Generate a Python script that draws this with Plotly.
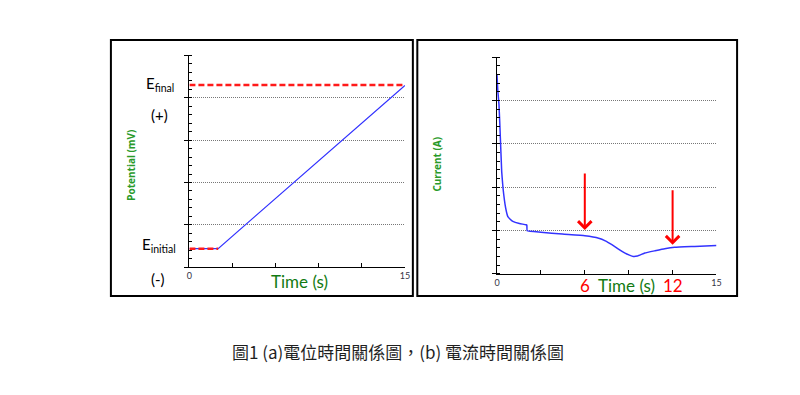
import plotly.graph_objects as go

W, H = 800, 395

# ---- data ----
pot_t = [0, 2.0, 15]
pot_v = [0.44, 0.44, 4.29]
e_init_t = [0, 2.0]
e_init_v = [0.44, 0.44]
e_final_t = [0, 15]
e_final_v = [4.30, 4.30]

cur_t = [0, 0.05, 0.135, 0.23, 0.32, 0.41, 0.59, 0.74, 0.9, 1.08, 1.53, 1.98, 2.04, 2.06,
         3.0, 4.47, 6.0, 6.95, 7.4, 7.85, 8.3, 8.75, 9.05, 9.32, 9.6, 10.1, 10.8, 11.46,
         12.14, 13.5, 15]
cur_i = [4.59, 4.25, 3.9, 3.13, 2.36, 1.98, 1.52, 1.32, 1.26, 1.21, 1.16, 1.13, 1.12, 0.99,
         0.96, 0.915, 0.877, 0.82, 0.76, 0.67, 0.57, 0.477, 0.43, 0.40, 0.41, 0.477, 0.53, 0.577,
         0.61, 0.63, 0.654]

arrow_x = [6, 12]
arrow_top = [2.35, 1.96]
arrow_tip = [1.01, 0.67]

xtick_vals = [0, 15]
xtick_text = ["0", "15"]

caption = "圖1 (a)電位時間關係圖，(b) 電流時間關係圖"

def px(x):
    return x / W

def py(y):
    return (H - y) / H

fig = go.Figure()

# left chart
fig.add_trace(go.Scatter(x=pot_t, y=pot_v, mode="lines", line=dict(color="#3333ff", width=1.2),
                         xaxis="x", yaxis="y", showlegend=False, hoverinfo="skip"))
fig.add_trace(go.Scatter(x=e_init_t, y=e_init_v, mode="lines",
                         line=dict(color="#ff1a1a", width=2.5, dash="6px,3px"),
                         xaxis="x", yaxis="y", showlegend=False, hoverinfo="skip"))
fig.add_trace(go.Scatter(x=e_final_t, y=e_final_v, mode="lines",
                         line=dict(color="#ff1a1a", width=2.5, dash="6px,3px"),
                         xaxis="x", yaxis="y", showlegend=False, hoverinfo="skip"))

# right chart
fig.add_trace(go.Scatter(x=cur_t, y=cur_i, mode="lines", line=dict(color="#3333ff", width=1.5, shape="spline", smoothing=0.3),
                         xaxis="x2", yaxis="y2", showlegend=False, hoverinfo="skip"))

tickfont = dict(family="Lato", size=9, color="#334")

def xax(domain):
    return dict(domain=domain, range=[0, 15], showgrid=False, zeroline=False,
                showline=True, linecolor="black", linewidth=1,
                tickvals=xtick_vals, ticktext=xtick_text, ticks="inside", ticklen=4,
                tickcolor="black", tickfont=tickfont, fixedrange=True,
                minor=dict(tick0=0, dtick=3, ticks="inside", ticklen=4, tickcolor="black", showgrid=False))

def yax(domain, anchor):
    return dict(domain=domain, range=[0, 5], anchor=anchor, showgrid=True, gridcolor="#777",
                griddash="1px,1px", gridwidth=1, zeroline=False,
                showline=True, linecolor="black", linewidth=1,
                tickvals=[0, 1, 2, 3, 4, 5], ticks="outside", ticklen=4, tickcolor="black",
                showticklabels=False,
                minor=dict(dtick=0.2, tick0=0, ticks="inside", ticklen=3, tickcolor="black", showgrid=False),
                fixedrange=True)

fig.update_layout(
    width=W, height=H, margin=dict(l=0, r=0, t=0, b=0),
    paper_bgcolor="white", plot_bgcolor="white",
    xaxis=dict(xax([px(188.3), px(406)]), anchor="y"),
    yaxis=yax([py(267.3), py(55.3)], "x"),
    xaxis2=dict(xax([px(499), px(720.7)]), anchor="y2"),
    yaxis2=yax([py(273.7), py(57.3)], "x2"),
)

shapes = [
    dict(type="rect", xref="paper", yref="paper", x0=px(109), x1=px(414), y0=py(296), y1=py(40),
         line=dict(color="black", width=2), fillcolor="rgba(0,0,0,0)", layer="above"),
    dict(type="rect", xref="paper", yref="paper", x0=px(418.5), x1=px(741.5), y0=py(296), y1=py(40),
         line=dict(color="black", width=2), fillcolor="rgba(0,0,0,0)", layer="above"),
]
fig.update_layout(shapes=shapes)

ann = []
def txt(x, y, s, size, color="black", xanchor="center", family="Lato", bold=False):
    if bold:
        s = "<b>" + s + "</b>"
    ann.append(dict(x=px(x), y=py(y), xref="paper", yref="paper", text=s, showarrow=False,
                    xanchor=xanchor, yanchor="middle", font=dict(family=family, size=size, color=color)))

txt(175, 84, "E<sub>final</sub>", 15, xanchor="right")
txt(158, 115, "(+)", 15)
txt(177, 245, "E<sub>initial</sub>", 15, xanchor="right")
txt(157, 279, "(-)", 15)
txt(299.5, 281, "Time (s)", 17, color="#127a12")
txt(630, 285, "Time (s)", 17, color="#127a12")
txt(587.7, 285, "6", 17, color="#ff0000")
txt(676.4, 285, "12", 17, color="#ff0000")
txt(399, 351, caption, 17, color="#1f1f1f", family="Noto Sans CJK TC")

# rotated axis titles
ann.append(dict(x=px(129), y=py(165), xref="paper", yref="paper", text="<b>Potential (mV)</b>",
                showarrow=False, textangle=-90, xanchor="center", yanchor="middle",
                font=dict(family="Noto Sans", size=10, color="#2a9a2a")))
ann.append(dict(x=px(438), y=py(164), xref="paper", yref="paper", text="<b>Current (A)</b>",
                showarrow=False, textangle=-90, xanchor="center", yanchor="middle",
                font=dict(family="Noto Sans", size=10, color="#2a9a2a")))

# red arrows
for ax_, top, tip in zip(arrow_x, arrow_top, arrow_tip):
    ann.append(dict(x=ax_, y=tip, ax=ax_, ay=top, xref="x2", yref="y2", axref="x2", ayref="y2",
                    text="", showarrow=True, arrowhead=4, arrowsize=1.3, arrowwidth=2,
                    arrowcolor="#ff0000", standoff=0))

fig.update_layout(annotations=ann)
fig.write_html("out.html", config={"displayModeBar": False},
               post_script="document.body.style.margin='0px';document.body.style.overflow='hidden';")
